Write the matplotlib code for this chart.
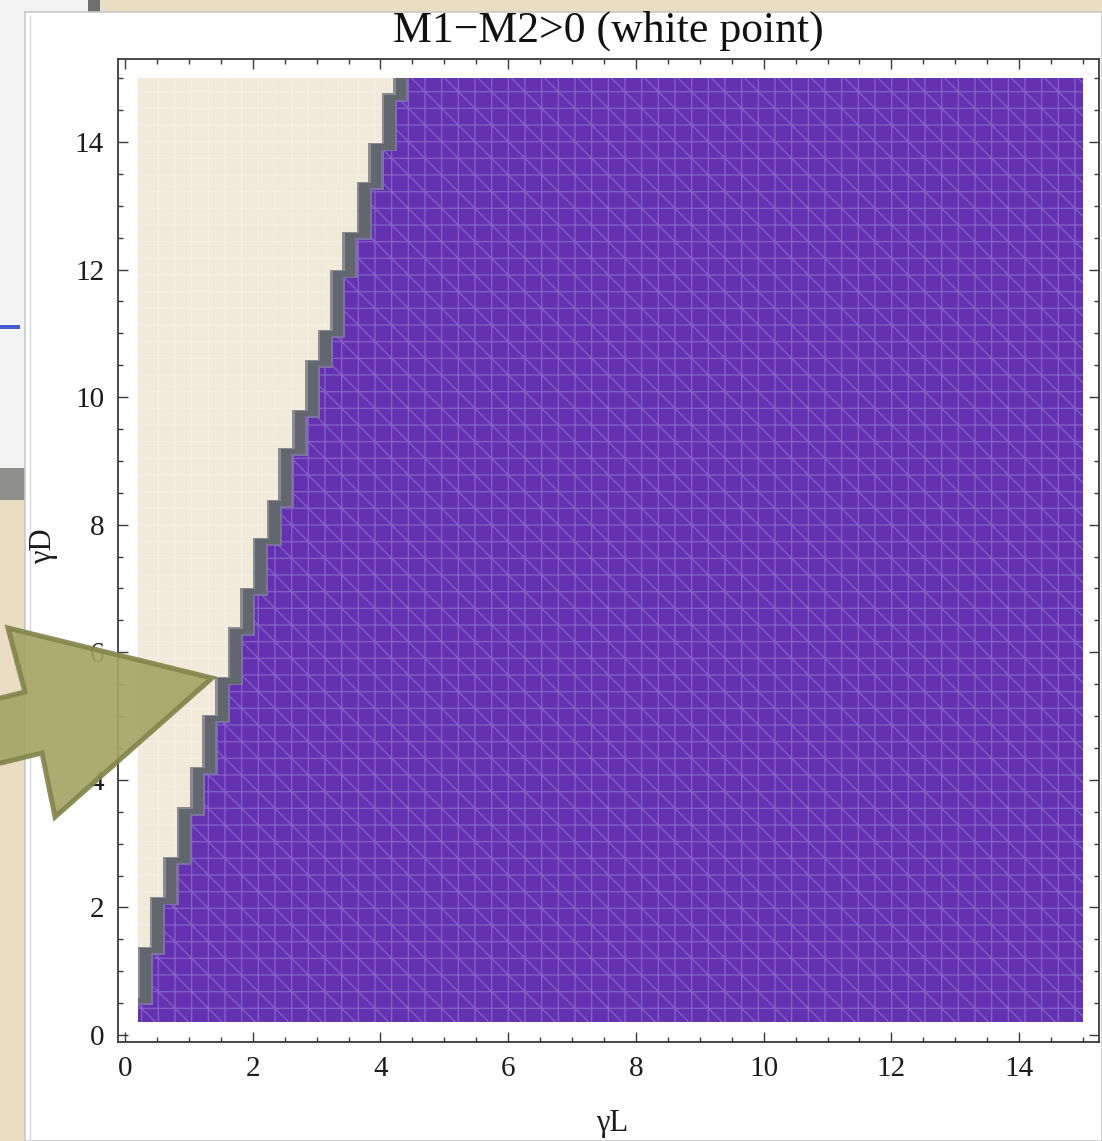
import numpy as np
import matplotlib
matplotlib.use("Agg")
import matplotlib.pyplot as plt
from matplotlib.patches import Polygon, Rectangle
from matplotlib.ticker import MultipleLocator

# Boundary of the region M1-M2>0, as sampled on the plot grid:
# each step is (left edge of the M1-M2<0 cells, lower y of that step)
step_x = [0.20, 0.39, 0.60, 0.81, 1.02, 1.21, 1.41, 1.61, 1.80, 2.00, 2.22,
          2.40, 2.62, 2.82, 3.02, 3.21, 3.40, 3.63, 3.81, 4.02, 4.20]
step_y = [0.60, 1.38, 2.16, 2.79, 3.57, 4.20, 5.02, 5.61, 6.39, 7.01, 7.79,
          8.39, 9.20, 9.80, 10.58, 11.05, 11.99, 12.59, 13.37, 13.98, 14.76]

x_range = [0.2, 15.0]
y_range = [0.2, 15.0]
x_ticks = [0, 2, 4, 6, 8, 10, 12, 14]
y_ticks = [0, 2, 4, 6, 8, 10, 12, 14]
title_text = "M1\u2212M2>0 (white point)"
x_label = "\u03b3L"
y_label = "\u03b3D"

W, H = 1102, 1141
plt.rcParams["font.family"] = ["Liberation Serif", "DejaVu Serif"]
plt.rcParams["hatch.linewidth"] = 0.9

fig = plt.figure(figsize=(W / 100, H / 100), dpi=100)
fig.patch.set_facecolor("#e9dec4")


def fr(px, py):
    return px / W, 1 - py / H


def fig_rect(x0, y0, x1, y1, **kw):
    (a, b), (c, d) = fr(x0, y1), fr(x1, y0)
    fig.add_artist(Rectangle((a, b), c - a, d - b, transform=fig.transFigure, **kw))


# desktop and windows behind the plot
fig_rect(0, 0, 92, 490, facecolor="#f3f3f3", edgecolor="none", zorder=-3)
fig_rect(0, 468, 92, 500, facecolor="#8e8e8c", edgecolor="none", zorder=-3)
fig_rect(88, 0, 100, 12, facecolor="#6f6f6f", edgecolor="none", zorder=-3)
fig_rect(0, 325, 20, 329, facecolor="#4a5ad0", edgecolor="none", zorder=-3)
# main notebook window
fig_rect(25, 12, 1102, 1141, facecolor="white", edgecolor="#c9c9c9",
         linewidth=1.2, zorder=-2)
fig.add_artist(plt.Line2D([fr(30, 0)[0]] * 2, [fr(0, 16)[1], 0],
                          transform=fig.transFigure, color="#d8d8d8",
                          linewidth=1.0, zorder=-1))

# axes frame
ax_l, ax_t, ax_r, ax_b = 118, 59, 1099, 1042
(l, b) = fr(ax_l, ax_b)
(r, t) = fr(ax_r, ax_t)
ax = fig.add_axes([l, b, r - l, t - b])
ax.set_zorder(1)
ax.set_facecolor("white")
ax.set_xlim(-0.11, 15.25)
ax.set_ylim(-0.11, 15.30)

xmin, xmax = x_range
ymin, ymax = y_range

# staircase path
stair = []
for i, (sx, sy) in enumerate(zip(step_x, step_y)):
    top = step_y[i + 1] if i + 1 < len(step_y) else ymax
    stair.append((sx, sy))
    stair.append((sx, top))

# M1-M2>0 region (purple, with mesh)
ax.add_patch(Rectangle((xmin, ymin), xmax - xmin, ymax - ymin,
                       facecolor="#6432b0", edgecolor="#8562c8",
                       linewidth=0, hatch="+\\", zorder=1))


def band_polygon(dx, dy):
    pts = [(xmin, ymax), (xmin, step_y[0] + dy)]
    pts += [(px + dx, py + dy) for px, py in stair]
    pts += [(step_x[-1] + dx, ymax)]
    return pts


# shaded boundary band: soft outer edge, darker core
ax.add_patch(Polygon(band_polygon(0.24, -0.13), closed=True,
                     facecolor="#7c70a6", edgecolor="none", zorder=2))
ax.add_patch(Polygon(band_polygon(0.20, -0.10), closed=True,
                     facecolor="#62666f", edgecolor="none", zorder=2.1))
ax.add_patch(Polygon(band_polygon(0.04, -0.02), closed=True,
                     facecolor="#8a8c91", edgecolor="none", zorder=2.2))

# M1-M2<0 region (beige)
beige = [(xmin, ymax), (xmin, step_y[0])] + stair
ax.add_patch(Polygon(beige, closed=True, facecolor="#f1eadb",
                     edgecolor="#f5f0e5", linewidth=0, hatch="+", zorder=3))

# ticks and frame
ax.set_xticks(x_ticks)
ax.set_yticks(y_ticks)
ax.xaxis.set_minor_locator(MultipleLocator(0.5))
ax.yaxis.set_minor_locator(MultipleLocator(0.5))
ax.tick_params(which="both", direction="in", top=True, right=True,
               color="#3a3a3a", width=1.0)
ax.tick_params(which="major", length=7.5, labelsize=21, pad=10,
               labelcolor="#1c1c1c")
ax.tick_params(which="minor", length=3.8)
for s in ax.spines.values():
    s.set_linewidth(1.3)
    s.set_color("#3a3a3a")

fig.text(0.5 * (l + r), fr(0, 31)[1], title_text, ha="center", va="center",
         fontsize=31.5, color="#111111", zorder=5)
fig.text(fr(612, 0)[0], fr(0, 1124)[1], x_label, ha="center", va="center",
         fontsize=22, color="#1c1c1c", zorder=5)
fig.text(fr(44, 0)[0], fr(0, 546)[1], y_label, ha="center", va="center",
         fontsize=22, rotation=90, color="#1c1c1c", zorder=5)

# pointer arrow
arrow_px = [(212, 678), (8, 628), (25, 692), (-20, 703), (-20, 768),
            (42, 753), (55, 817)]
arrow_fig = [fr(px, py) for px, py in arrow_px]
fig.add_artist(Polygon(arrow_fig, closed=True, transform=fig.transFigure,
                       facecolor="#a3a566", edgecolor="#83854c",
                       linewidth=3.6, alpha=0.92, joinstyle="miter",
                       zorder=10))

fig.savefig("out.png", dpi=100, facecolor=fig.get_facecolor())
